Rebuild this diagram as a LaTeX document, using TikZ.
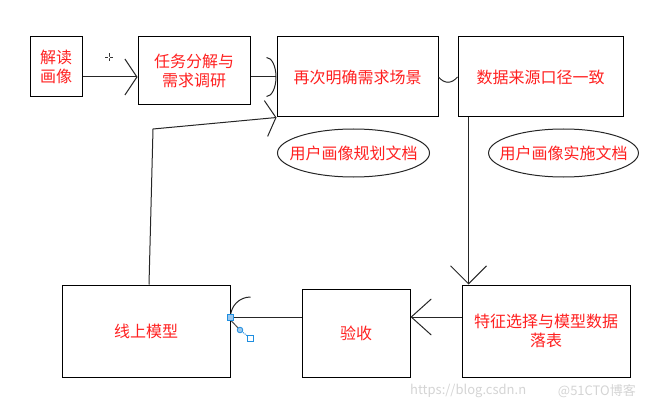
\documentclass[tikz,border=0pt]{standalone}
\usepackage{fontspec}
\setmainfont{Noto Sans CJK SC}
\usetikzlibrary{arrows.meta,shapes.geometric}
\definecolor{txtred}{HTML}{FF2020}
\definecolor{wm}{HTML}{D4D4D4}
\definecolor{hblue}{HTML}{1E8EE0}
\definecolor{hfill}{HTML}{9CC8EE}
\tikzset{
  box/.style={draw=black, line width=1pt, rectangle, inner sep=0pt, align=center,
    text=txtred, font=\fontsize{16}{19.5}\selectfont},
  doc/.style={draw=black!85, line width=1pt, ellipse, inner xsep=-11pt, inner ysep=0pt,
    text=txtred, font=\fontsize{16}{19.5}\selectfont},
  conn/.style={draw=black!85, line width=1pt},
  arr/.style={conn, -{Straight Barb[length=#1, width=36pt, line width=1pt]}},
  arr/.default=14pt,
  wmark/.style={text=wm, inner sep=0pt, font=\fontsize{13}{15}\selectfont}
}
\begin{document}
\begin{tikzpicture}[x=1pt,y=-1pt]
\useasboundingbox (0,0) rectangle (645,409);
% boxes
\node[box, minimum width=52pt, minimum height=60pt] (b1) at (56,67) {解读\\画像};
\node[box, minimum width=112pt, minimum height=68pt] (b2) at (194,71) {任务分解与\\需求调研};
\node[box, minimum width=161pt, minimum height=80pt] (b3) at (357.5,77) {再次明确需求场景};
\node[box, minimum width=165pt, minimum height=80pt] (b4) at (540.5,77) {数据来源口径一致};
\node[doc, minimum width=152pt, minimum height=48pt] (e1) at (353.5,153) {用户画像规划文档};
\node[doc, minimum width=149pt, minimum height=48pt] (e2) at (563.5,153) {用户画像实施文档};
\node[box, minimum width=168pt, minimum height=92pt] (b5) at (546,331) {特征选择与模型数据\\落表};
\node[box, minimum width=108pt, minimum height=88pt] (b6) at (356,333) {验收};
\node[box, minimum width=168pt, minimum height=92pt] (b7) at (146,331) {线上模型};
% connectors
\draw[arr=12pt] ([yshift=-10pt]b1.east) -- ([yshift=-6pt]b2.west);
\draw[conn, -{Arc Barb[length=10pt, width=40pt, line width=1pt]}] ([yshift=-6pt]b2.east) -- (b3.west);
\draw[conn] (b3.east) .. controls ([xshift=6pt,yshift=-7pt]b3.east) and ([xshift=-6pt,yshift=-7pt]b4.west) .. (b4.west);
\draw[arr=18pt] ([xshift=11pt]b4.south west) -- ([xshift=7pt]b5.north west);
\draw[arr=20pt] ([yshift=14pt]b5.west) -- ([yshift=16pt]b6.east);
\draw[conn] ([yshift=16pt]b6.west) -- ([yshift=14pt]b7.east);
\draw[conn] ([yshift=14pt]b7.east) arc[start angle=180, end angle=270, radius=20];
\coordinate (k) at (153,129);
\draw[arr=10pt] ([xshift=3pt]b7.north) -- (k) -- (b3.south west);
% cursor mark
\draw[black!80, line width=0.8pt] (105,57.5) -- (113,57.5) (109,53.5) -- (109,61.5);
\fill[white] (109,57.5) circle[radius=1.2];
% selection handles
\draw[black!70, line width=1pt] ([yshift=11pt]b7.east) -- (240,330);
\draw[hblue, densely dotted, line width=1pt] (240,330) -- (250,338);
\draw[hblue, fill=hfill, line width=0.8pt] (227,314) rectangle (233,320);
\draw[hblue, fill=hfill, line width=0.8pt] (240,330) circle[radius=2.8];
\draw[hblue, fill=white, line width=0.8pt] (247,335) rectangle (253,341);
% watermark
\node[wmark, anchor=west] (w1) at (410,391) {https://blog.csdn.n};
\node[wmark, anchor=east] (w2) at (636,391) {@51CTO博客};
\end{tikzpicture}
\end{document}
